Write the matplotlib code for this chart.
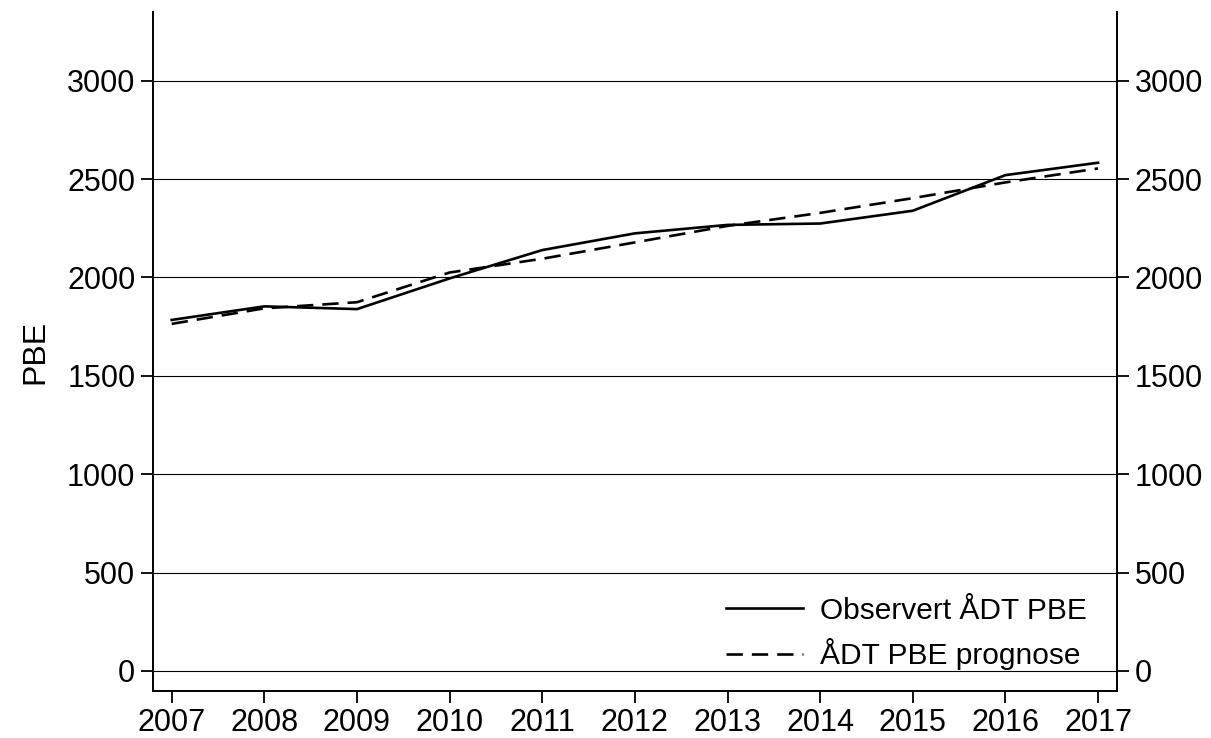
import matplotlib
matplotlib.use("Agg")
import matplotlib.pyplot as plt

years = [2007, 2008, 2009, 2010, 2011, 2012, 2013, 2014, 2015, 2016, 2017]
observed = [1784, 1853, 1839, 1995, 2139, 2224, 2267, 2274, 2339, 2520, 2583]
forecast = [1764, 1843, 1874, 2025, 2095, 2178, 2262, 2328, 2403, 2483, 2554]
yticks = [0, 500, 1000, 1500, 2000, 2500, 3000]
label_obs = "Observert ÅDT PBE"
label_fc = "ÅDT PBE prognose"
ylabel = "PBE"

plt.rcParams['font.family'] = ['Liberation Sans', 'DejaVu Sans']

fig = plt.figure(figsize=(12.11, 7.38), dpi=100)
ax = fig.add_axes([0.1261, 0.0637, 0.9224 - 0.1261, 0.9837 - 0.0637])

for y in yticks:
    ax.axhline(y, color='black', lw=0.8, zorder=1)

ax.plot(years, observed, color='black', lw=1.9, label=label_obs, zorder=3)
ax.plot(years, forecast, color='black', lw=1.9, ls=(0, (6.2, 3.4)), label=label_fc, zorder=3)

ax.set_xlim(2006.795, 2017.205)
ax.set_ylim(-102, 3349)
ax.set_xticks(years)
ax.set_yticks(yticks)
ax.tick_params(axis='both', direction='out', length=8.5, width=1.3, labelsize=22, colors='black')
ax.tick_params(axis='y', right=True, labelright=True, pad=4)
ax.tick_params(axis='x', pad=4)
ax.spines['top'].set_visible(False)
for s in ['left', 'right', 'bottom']:
    ax.spines[s].set_linewidth(1.4)
ax.set_ylabel(ylabel, fontsize=23, labelpad=12)

leg = ax.legend(loc='lower right', frameon=False, fontsize=21.5, handlelength=2.6,
                handletextpad=0.55, borderaxespad=0.3, labelspacing=0.45,
                bbox_to_anchor=(0.99, 0.0))

fig.savefig("out.png", dpi=100)
